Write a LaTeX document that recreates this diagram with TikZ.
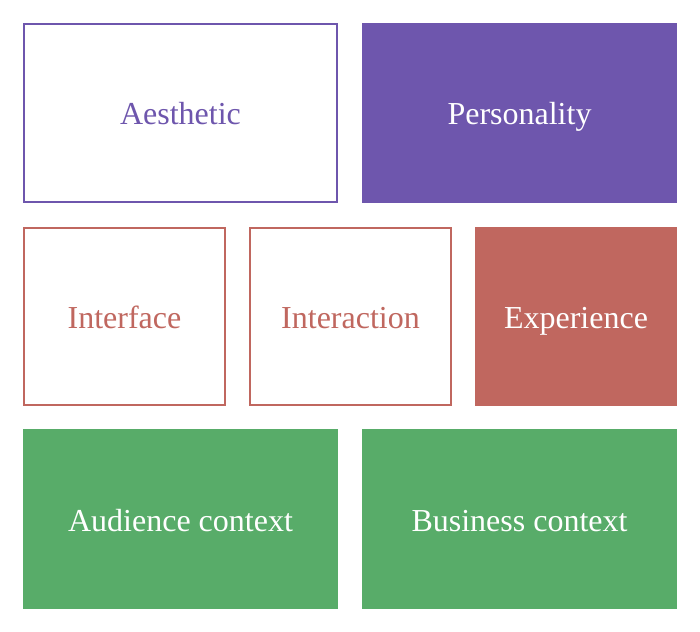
\documentclass[tikz,border=0pt]{standalone}
\usepackage{fontspec}
\setmainfont{Liberation Serif}
\definecolor{cpurple}{HTML}{6E56AD}
\definecolor{cred}{HTML}{C0675F}
\definecolor{cgreen}{HTML}{58AC69}
\tikzset{
  lbl/.style={font=\fontsize{32bp}{38bp}\selectfont, anchor=base, inner sep=0pt},
  outlinebox/.style={draw=#1, line width=2bp, fill=white},
  filledbox/.style={fill=#1, draw=none},
}
\begin{document}
\begin{tikzpicture}[x=1bp,y=-1bp]
\useasboundingbox (0,0) rectangle (700,632);
\fill[white] (0,0) rectangle (700,632);
% row 1
\draw[outlinebox=cpurple] (24,24) rectangle (337,202);
\node[lbl, text=cpurple] (aesthetic) at (180.5,124.5) {Aesthetic};
\fill[filledbox=cpurple] (362,23) rectangle (677,203);
\node[lbl, text=white] (personality) at (519.5,124.5) {Personality};
% row 2
\draw[outlinebox=cred] (24,228) rectangle (225,405);
\node[lbl, text=cred] (interface) at (124.5,328) {Interface};
\draw[outlinebox=cred] (250,228) rectangle (451,405);
\node[lbl, text=cred] (interaction) at (350.5,328) {Interaction};
\fill[filledbox=cred] (475,227) rectangle (677,406);
\node[lbl, text=white] (experience) at (576,328) {Experience};
% row 3
\fill[filledbox=cgreen] (23,429) rectangle (338,609);
\node[lbl, text=white] (audience) at (180.5,531) {Audience context};
\fill[filledbox=cgreen] (362,429) rectangle (677,609);
\node[lbl, text=white] (business) at (519.5,531) {Business context};
\end{tikzpicture}
\end{document}
